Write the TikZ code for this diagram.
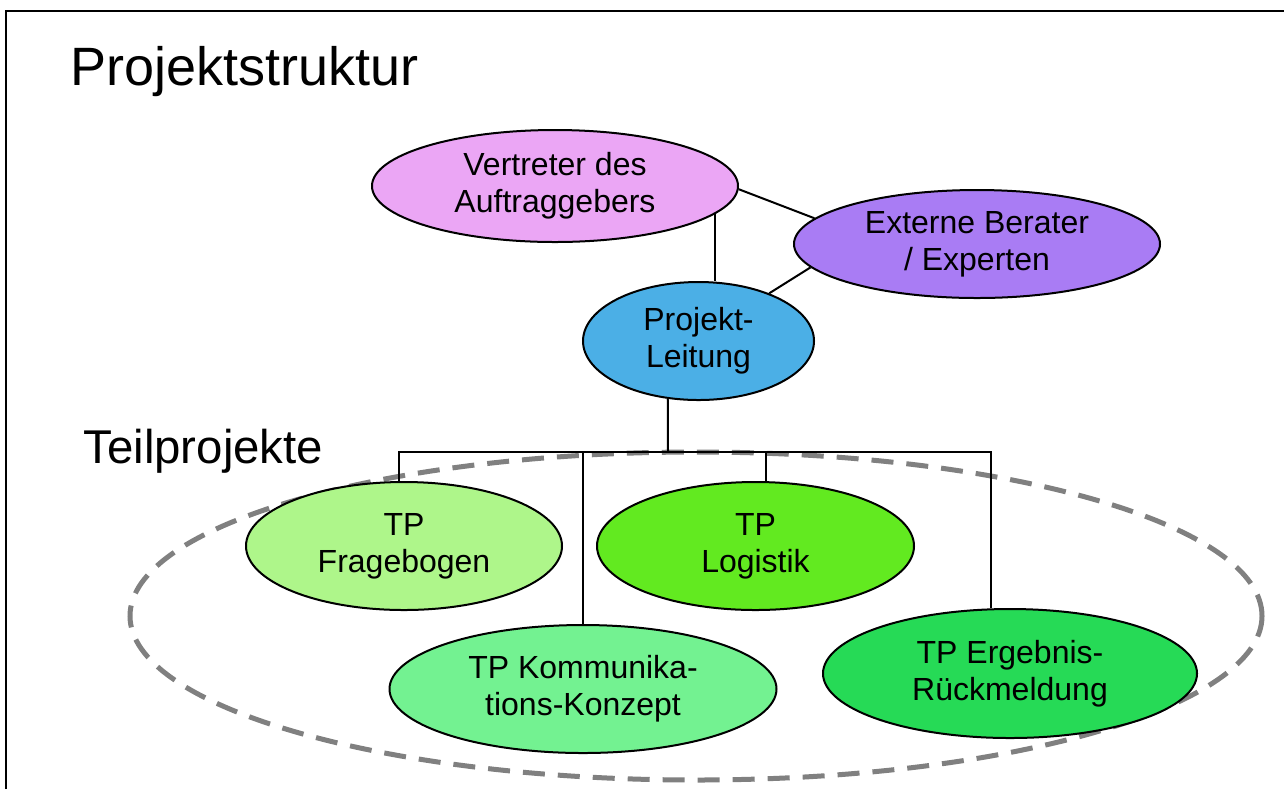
\documentclass[tikz,border=0pt]{standalone}
\usepackage{fontspec}
\setmainfont{Liberation Sans}
\usepackage{tikz}
\usetikzlibrary{positioning,
        shapes,
        arrows.meta}
\usepackage{xcolor}

\definecolor{auftrag}{HTML}{EBA6F5}
\definecolor{berater}{HTML}{A97CF4}
\definecolor{leitung}{HTML}{4BAFE6}
\definecolor{frage}{HTML}{AEF68A}
\definecolor{logistik}{HTML}{62EA20}
\definecolor{kommun}{HTML}{73F291}
\definecolor{ergebnis}{HTML}{26DA56}

\begin{document}
\begin{tikzpicture}[x=0.5pt,y=-0.5pt,
        blob/.style={ellipse,draw,line width=1pt,inner sep=0pt,align=center,
                font=\fontsize{16}{18.5}\selectfont},
        link/.style={line width=1pt}]
        \useasboundingbox (0,0) rectangle (1284,789);
        \draw [line width=1.2pt] (6,789) -- (6,11) -- (1284,11);

        \node [anchor=base west,inner sep=0pt,font=\fontsize{27}{30}\selectfont] (titel) at (70,85) {Projektstruktur};
        \node [anchor=base west,inner sep=0pt,font=\fontsize{23.7}{27}\selectfont] (teil) at (83,463) {Teilprojekte};

        % Rahmen um die Teilprojekte
        \node [ellipse,draw=gray,line width=2.5pt,dash pattern=on 11pt off 6.5pt,
                minimum width=566pt,minimum height=164pt,inner sep=0pt] (rahmen) at (696,616) {};

        \node [blob,fill=auftrag,minimum width=183pt,minimum height=56pt] (vertreter) at (555,186) {Vertreter des\\Auftraggebers};
        \node [blob,fill=berater,minimum width=183pt,minimum height=54pt] (externe) at (977,244) {Externe Berater\\/ Experten};
        \node [blob,fill=leitung,minimum width=115.5pt,minimum height=59pt] (pl) at (698.5,341) {Projekt-\\Leitung};

        \node [blob,fill=frage,minimum width=158pt,minimum height=64pt] (tpfrage) at (404,546) {TP\\Fragebogen};
        \node [blob,fill=logistik,minimum width=158.5pt,minimum height=64pt] (tplog) at (755.5,546) {TP\\Logistik};
        \node [blob,fill=kommun,minimum width=193.5pt,minimum height=64pt] (tpkomm) at (583,689) {TP Kommunika-\\tions-Konzept};
        \node [blob,fill=ergebnis,minimum width=187pt,minimum height=64.5pt] (tperg) at (1010,673.5) {TP Ergebnis-\\Rückmeldung};

        \coordinate (bar) at (668,452);

        \draw [link] (vertreter.-10.9) -- (vertreter.-10.9 |- pl.north);
        \draw [link] (vertreter.-1) -- (externe.171);
        \draw [link] (externe.188) -- (pl.34);
        \draw [link] (pl.-118) -- (bar);
        \draw [link] (tpfrage.94) |- (tperg.106 |- bar) -- (tperg.106);
        \draw [link] (tpkomm.north) -- (tpkomm.north |- bar);
        \draw [link] (tplog.81) -- (tplog.81 |- bar);
    \end{tikzpicture}
\end{document}
